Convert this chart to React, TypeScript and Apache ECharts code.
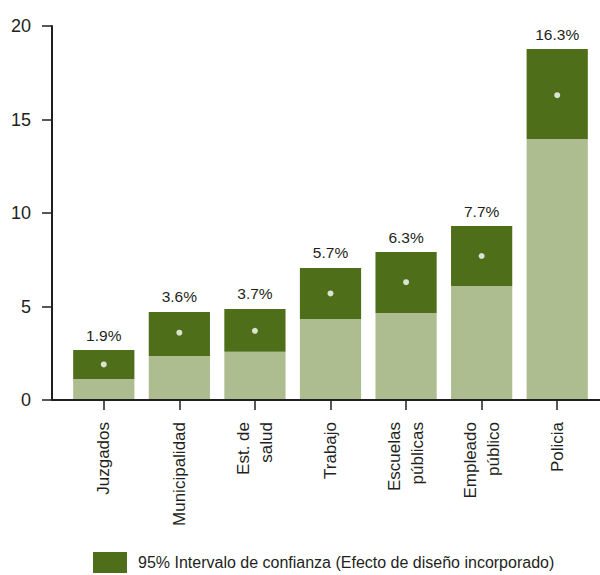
import React, { useEffect, useRef } from "react";
import * as echarts from "echarts";

const categories = ["Juzgados", "Municipalidad", "Est. de\nsalud", "Trabajo", "Escuelas\npúblicas", "Empleado\npúblico", "Policia"];
const estimate = [1.9, 3.6, 3.7, 5.7, 6.3, 7.7, 16.3];
const lower = [1.12, 2.35, 2.58, 4.33, 4.65, 6.1, 13.96];
const upper = [2.67, 4.71, 4.87, 7.06, 7.91, 9.3, 18.77];
const yTicks = { min: 0, max: 20, interval: 5 };
const legendName = "95% Intervalo de confianza (Efecto de diseño incorporado)";

const DARK = "#4E6E19";
const LIGHT = "#ADBD8F";
const TEXT = "#231F20";
const REG = "'Liberation Sans', Arial, sans-serif";

export default function App() {
  const ref = useRef<HTMLDivElement>(null);
  useEffect(() => {
    if (!ref.current) return;
    const chart = echarts.init(ref.current, null, { renderer: "svg" });
    const range = upper.map((u, i) => +(u - lower[i]).toFixed(2));
    chart.setOption({
      animation: false,
      grid: { left: 66, right: 5, top: 26, bottom: 175 },
      legend: {
        data: [legendName],
        left: 93,
        top: 552,
        padding: 0,
        icon: "rect",
        itemWidth: 34,
        itemHeight: 21,
        itemGap: 10,
        textStyle: { fontFamily: REG, fontSize: 16, color: TEXT, padding: [0, 0, 0, 6] },
      },
      xAxis: {
        type: "category",
        data: categories,
        axisLine: { show: false },
        axisTick: { show: true, alignWithLabel: true, length: 10, lineStyle: { color: TEXT, width: 1.5 } },
        axisLabel: {
          rotate: 90,
          margin: 22,
          fontFamily: REG,
          fontSize: 17,
          lineHeight: 23,
          color: TEXT,
          interval: 0,
        },
      },
      yAxis: {
        type: "value",
        min: yTicks.min,
        max: yTicks.max,
        interval: yTicks.interval,
        offset: 14,
        axisLine: { show: true, lineStyle: { color: TEXT, width: 2 } },
        axisTick: { show: true, length: 10, lineStyle: { color: TEXT, width: 1.5 } },
        axisLabel: { margin: 21, fontFamily: REG, fontSize: 18, color: TEXT },
        splitLine: { show: false },
      },
      graphic: [
        {
          type: "line",
          shape: { x1: 52, y1: 400, x2: 600, y2: 400 },
          style: { stroke: TEXT, lineWidth: 2 },
          z: 10,
        },
      ],
      series: [
        {
          name: "lower",
          type: "bar",
          stack: "ci",
          data: lower,
          barWidth: "81%",
          itemStyle: { color: LIGHT },
        },
        {
          name: legendName,
          type: "bar",
          stack: "ci",
          data: range,
          barWidth: "81%",
          itemStyle: { color: DARK },
          label: {
            show: true,
            position: "top",
            distance: 7,
            fontFamily: REG,
            fontSize: 15.5,
            color: TEXT,
            formatter: (p: any) => estimate[p.dataIndex].toFixed(1) + "%",
          },
        },
        {
          name: "estimate",
          type: "scatter",
          data: estimate,
          symbol: "circle",
          symbolSize: 6,
          itemStyle: { color: "#ffffff" },
          z: 5,
        },
      ],
    });
    return () => chart.dispose();
  }, []);
  return <div ref={ref} style={{ width: 600, height: 575, position: "absolute", left: 0, top: 0 }} />;
}
